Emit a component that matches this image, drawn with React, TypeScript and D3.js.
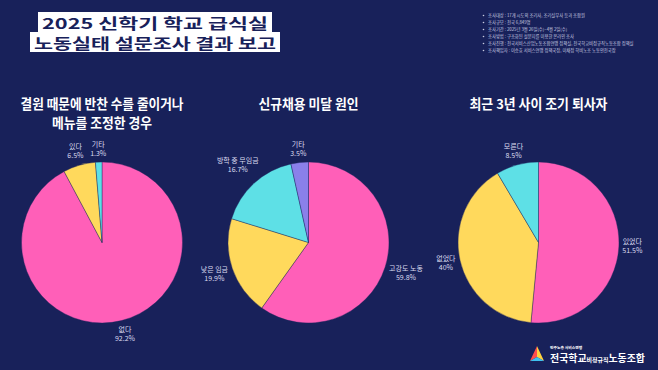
import React, { useEffect, useRef } from 'react'
import * as d3 from 'd3'

const BG = '#18215a'
const PINK = '#ff5fb8'
const YELLOW = '#ffd95c'
const CYAN = '#5ee0e6'
const PURPLE = '#8a80ea'

const headingLines = ['2025 신학기 학교 급식실', '노동실태 설문조사 결과 보고']

const infoLines = [
  '조사대상 : 17개 시도의 조리사, 조리실무사 등과 조합원',
  '조사규모 : 전국 6,849명',
  '조사기간 : 2025년 3월 26일(수)~4월 2일(수)',
  '조사방법 : 구조화된 설문지를 이용한 온라인 조사',
  '조사진행 : 전국서비스산업노동조합연맹 정책실, 전국학교비정규직노동조합 정책실',
  '조사책임자 : 이승효 서비스연맹 정책국장, 이채정 학비노조 노동안전국장',
]

const pie1Title = ['결원 때문에 반찬 수를 줄이거나', '메뉴를 조정한 경우']
const pie1Labels = ['없다', '있다', '기타']
const pie1Values = [92.2, 6.5, 1.3]
const pie1Colors = [PINK, YELLOW, CYAN]

const pie2Title = ['신규채용 미달 원인']
const pie2Labels = ['고강도 노동', '낮은 임금', '방학 중 무임금', '기타']
const pie2Values = [59.8, 19.9, 16.7, 3.5]
const pie2Colors = [PINK, YELLOW, CYAN, PURPLE]

const pie3Title = ['최근 3년 사이 조기 퇴사자']
const pie3Labels = ['있었다', '없었다', '모른다']
const pie3Values = [51.5, 40, 8.5]
const pie3Colors = [PINK, YELLOW, CYAN]

const FONT = '"Noto Sans CJK KR", "Noto Sans", sans-serif'

export default function App() {
  const ref = useRef<SVGSVGElement | null>(null)

  useEffect(() => {
    document.body.style.margin = '0'
    const width = 658
    const height = 370
    const svg = d3.select(ref.current!)
    svg.selectAll('*').remove()
    svg.attr('width', width).attr('height', height)
    svg.append('rect').attr('width', width).attr('height', height).attr('fill', BG)

    // heading boxes
    const boxes = [
      { x: 38, y: 12, w: 234, h: 20 },
      { x: 30, y: 32, w: 250, h: 20 },
    ]
    headingLines.forEach((line, i) => {
      const b = boxes[i]
      svg.append('rect').attr('x', b.x).attr('y', b.y).attr('width', b.w).attr('height', b.h).attr('fill', '#ffffff')
      svg.append('text')
        .attr('x', b.x + b.w / 2).attr('y', b.y + b.h / 2 + 0.5)
        .attr('text-anchor', 'middle').attr('dominant-baseline', 'central')
        .attr('font-family', FONT).attr('font-weight', 700).attr('font-size', 14.5)
        .attr('textLength', b.w - 8).attr('lengthAdjust', 'spacingAndGlyphs')
        .attr('fill', BG)
        .text(line)
    })

    // survey info
    const info = svg.append('g').attr('font-family', FONT).attr('font-size', 4.3).attr('fill', '#c9cbe0')
    infoLines.forEach((line, i) => {
      const y = 15.5 + i * 7
      info.append('circle').attr('cx', 483.5).attr('cy', y).attr('r', 0.8).attr('fill', '#c9cbe0')
      info.append('text').attr('x', 488).attr('y', y).attr('dominant-baseline', 'middle').text(line)
    })

    const drawPie = (cx: number, title: string[], titleW: number[], labels: string[], values: number[], colors: string[]) => {
      const r = 80.5
      const cy = 242.5
      const g = svg.append('g')
      title.forEach((t, i) => {
        g.append('text')
          .attr('x', cx).attr('y', 105 + i * 19)
          .attr('text-anchor', 'middle').attr('dominant-baseline', 'middle')
          .attr('font-family', FONT).attr('font-weight', 700).attr('font-size', 13.5)
          .attr('textLength', titleW[i]).attr('lengthAdjust', 'spacingAndGlyphs')
          .attr('fill', '#ffffff')
          .text(t)
      })
      const pie = d3.pie<number>().sort(null).value(d => d)
      const arcs = pie(values)
      const arc = d3.arc<d3.PieArcDatum<number>>().innerRadius(0).outerRadius(r)
      const pg = g.append('g').attr('transform', `translate(${cx},${cy})`)
      pg.selectAll('path').data(arcs).enter().append('path')
        .attr('d', arc)
        .attr('fill', (_, i) => colors[i])
        .attr('stroke', BG).attr('stroke-width', 0.4)

      arcs.forEach((a, i) => {
        const mid = (a.startAngle + a.endAngle) / 2
        const sx = Math.sin(mid)
        const sy = -Math.cos(mid)
        const lg = pg.append('g').attr('font-family', FONT).attr('font-size', 7).attr('fill', '#dcdcf0')
        const t1 = lg.append('text').attr('text-anchor', 'middle').attr('y', -4.5).attr('dominant-baseline', 'middle').text(labels[i])
        const t2 = lg.append('text').attr('text-anchor', 'middle').attr('y', 4.5).attr('dominant-baseline', 'middle').text(`${values[i]}%`)
        const w = Math.max((t1.node() as SVGTextElement).getComputedTextLength(), (t2.node() as SVGTextElement).getComputedTextLength())
        const h = 18
        const dist = r + 3 + Math.abs(sx) * w / 2 + Math.abs(sy) * h / 2
        lg.attr('transform', `translate(${sx * dist},${sy * dist})`)
      })
    }

    drawPie(102, pie1Title, [163, 100], pie1Labels, pie1Values, pie1Colors)
    drawPie(308.5, pie2Title, [100], pie2Labels, pie2Values, pie2Colors)
    drawPie(538.5, pie3Title, [138], pie3Labels, pie3Values, pie3Colors)

    // union logo
    const logo = svg.append('g')
    const tri = logo.append('g')
    tri.append('path').attr('d', 'M537,346 L530,361 L537,357 Z').attr('fill', '#ff4d4d')
    tri.append('path').attr('d', 'M537,346 L544,361 L537,357 Z').attr('fill', '#ffd23f')
    tri.append('path').attr('d', 'M530,361 L544,361 L537,357 Z').attr('fill', '#3ec1f0')
    logo.append('text').attr('x', 550).attr('y', 349).attr('font-family', FONT).attr('font-size', 3.8)
      .attr('font-weight', 700).attr('fill', '#ffffff').text('민주노총 서비스연맹')
    const big = logo.append('text').attr('x', 550).attr('y', 361.5).attr('font-family', FONT)
      .attr('font-weight', 700).attr('fill', '#ffffff')
      .attr('textLength', 95).attr('lengthAdjust', 'spacingAndGlyphs')
    big.append('tspan').attr('font-size', 10).text('전국학교')
    big.append('tspan').attr('font-size', 6).text('비정규직')
    big.append('tspan').attr('font-size', 10).text('노동조합')
  }, [])

  return <svg ref={ref} style={{ position: 'absolute', left: 0, top: 0, display: 'block' }} />
}
